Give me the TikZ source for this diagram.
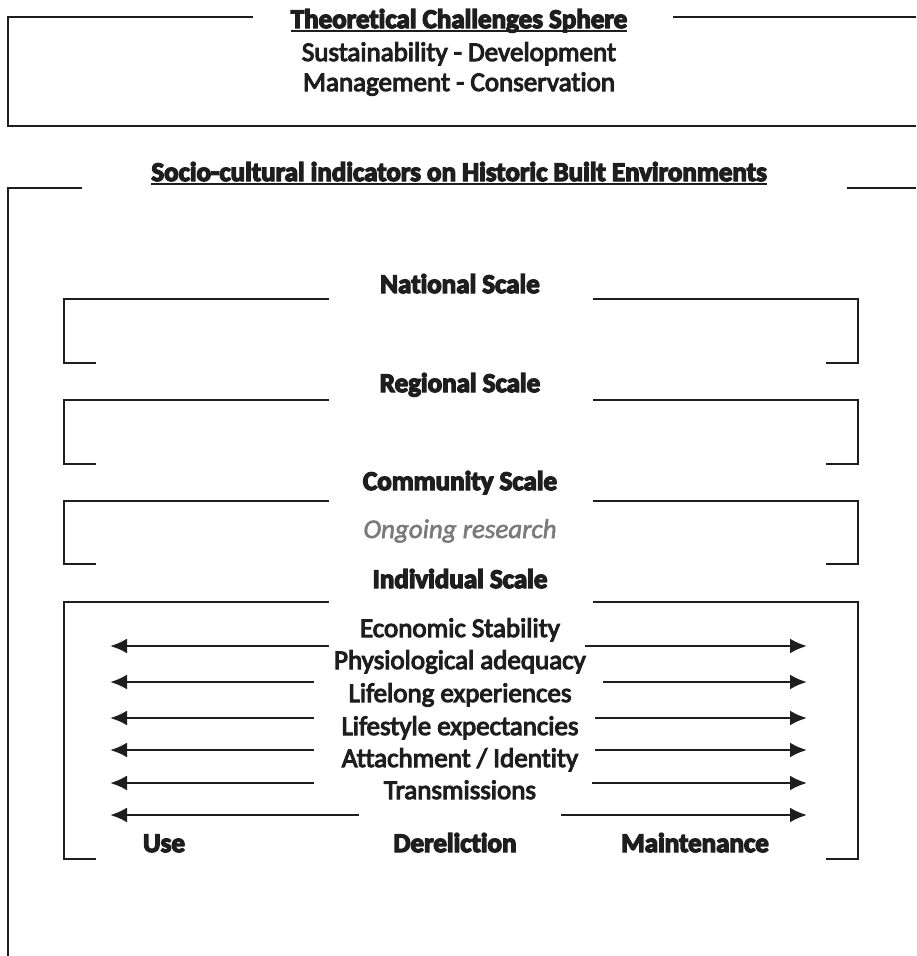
\documentclass[tikz,border=0pt]{standalone}
\usepackage{fontspec}
\setmainfont{Carlito}
\newfontface\bodyface{Carlito}[FakeBold=4, Ligatures=NoCommon, RawFeature={-liga;-clig;-calt}]
\newfontface\headface{Carlito Bold}[FakeBold=5, Ligatures=NoCommon, RawFeature={-liga;-clig;-calt}]
\newfontface\noteface{Carlito Italic}[FakeBold=2, Ligatures=NoCommon]
\newcommand{\tI}{t\kern0pt i}
\usetikzlibrary{arrows.meta}
\definecolor{ink}{HTML}{1E1E1E}
\definecolor{faint}{HTML}{7A7A7A}
\begin{document}
\begin{tikzpicture}[x=1pt,y=-1pt,
  frame/.style={draw=ink, line width=2.6pt, line join=miter},
  lbl/.style={inner sep=0pt, anchor=base, text=ink, font=\fontsize{27}{32}\bodyface},
  head/.style={lbl, font=\fontsize{27}{32}\headface},
  note/.style={lbl, text=faint, font=\fontsize{27}{32}\noteface},
  uline/.style={draw=ink, line width=2.2pt},
  flow/.style={draw=ink, line width=2.6pt, -{Latex[length=17pt,width=15pt]}}
]
\useasboundingbox (0,0) rectangle (916,956);

% ---- outer sphere of theoretical challenges
\draw[frame] (253,17) -- (8,17) -- (8,126) -- (916,126);
\draw[frame] (673,17) -- (916,17);
\node[head] (theo) at (459,28) {Theore\tI cal Challenges Sphere};
\draw[uline] ([yshift=-3pt]theo.base west) -- ([yshift=-3pt]theo.base east);
\node[lbl] (sust) at (459,61) {Sustainability - Development};
\node[lbl] (mgmt) at (459,91) {Management - Conserva\tI on};

% ---- socio-cultural indicators frame
\draw[frame] (82,188) -- (8,188) -- (8,960);
\draw[frame] (847,188) -- (916,188);
\node[head] (socio) at (459,181) {Socio-cultural indicators on Historic Built Environments};
\draw[uline] ([yshift=-3pt]socio.base west) -- ([yshift=-3pt]socio.base east);

% ---- bracket boxes for each scale
\foreach \t/\b in {299/363, 400/464, 501/564, 602/859}{
  \draw[frame] (329,\t) -- (64,\t) -- (64,\b) -- (96,\b);
  \draw[frame] (593,\t) -- (858,\t) -- (858,\b) -- (826,\b);
}
\node[head] (national)   at (460,293) {Na\tI onal Scale};
\node[head] (regional)   at (460,392) {Regional Scale};
\node[head] (community)  at (460,490) {Community Scale};
\node[note] (ongoing)    at (460,538) {Ongoing research};
\node[head] (individual) at (460,588) {Individual Scale};

% ---- individual indicators
\node[lbl] (econ)   at (460,637) {Economic Stability};
\node[lbl] (phys)   at (460,669) {Physiological adequacy};
\node[lbl] (life)   at (460,702) {Lifelong experiences};
\node[lbl] (style)  at (460,735) {Lifestyle expectancies};
\node[lbl] (attach) at (460,767) {Attachment / Iden\tI ty};
\node[lbl] (trans)  at (460,799) {Transmissions};

% ---- arrows towards use and maintenance
\foreach \i/\y/\l/\r in {1/646/329/585, 2/682/314/603, 3/718/314/595,
                         4/750/314/595, 5/783/314/592, 6/815/359/561}{
  \coordinate (ls\i) at (\l,\y);
  \coordinate (lt\i) at (110,\y);
  \coordinate (rs\i) at (\r,\y);
  \coordinate (rt\i) at (807,\y);
  \draw[flow] (ls\i) -- (lt\i);
  \draw[flow] (rs\i) -- (rt\i);
}

\node[head] (use)   at (164,852) {Use};
\node[head] (derel) at (455,852) {Derelic\tI on};
\node[head] (maint) at (695,852) {Maintenance};
\end{tikzpicture}
\end{document}
